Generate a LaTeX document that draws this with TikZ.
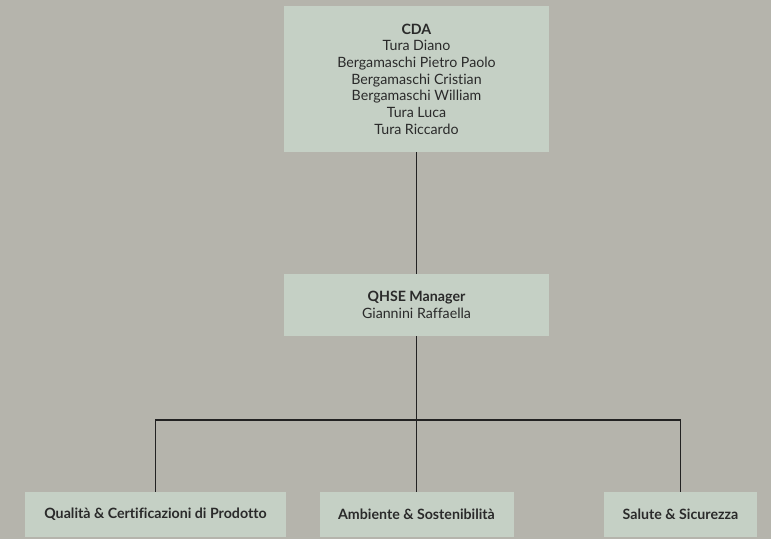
\documentclass[tikz,border=0pt]{standalone}
\usepackage{fontspec}
\setmainfont{Lato}[Ligatures={NoCommon}]
\definecolor{bgc}{HTML}{B5B4AC}
\definecolor{boxc}{HTML}{C5D0C5}
\definecolor{linec}{HTML}{222222}
\definecolor{txtc}{HTML}{2A2A2A}
\begin{document}
\begin{tikzpicture}[x=1pt,y=-1pt,
  box/.style={fill=boxc,inner sep=0pt,align=center,text=txtc,font=\fontsize{14.2}{16.7}\selectfont},
  conn/.style={draw=linec,line width=1.2pt}]
\fill[bgc] (0,0) rectangle (771,539);
\useasboundingbox (0,0) rectangle (771,539);
\node[box,minimum width=265pt,minimum height=146pt] (cda) at (416.5,79)
  {\textbf{CDA}\\Tura Diano\\Bergamaschi Pietro Paolo\\Bergamaschi Cristian\\Bergamaschi William\\Tura Luca\\Tura Riccardo};
\node[box,minimum width=265pt,minimum height=62pt] (qhse) at (416.5,305)
  {\textbf{QHSE Manager}\\Giannini Raffaella};
\node[box,minimum width=261pt,minimum height=45pt] (q) at (155.5,514.5)
  {\textbf{Qualità \& Certificazioni di Prodotto}};
\node[box,minimum width=194pt,minimum height=45pt] (a) at (416.5,514.5)
  {\textbf{Ambiente \& Sostenibilità}};
\node[box,minimum width=153pt,minimum height=45pt] (s) at (680.5,514.5)
  {\textbf{Salute \& Sicurezza}};
\coordinate (j) at (416.5,420);
\draw[conn] (cda.south) -- (qhse.north);
\draw[conn] (qhse.south) -- (a.north);
\draw[conn] (q.north) |- (j) -| (s.north);
\end{tikzpicture}
\end{document}
